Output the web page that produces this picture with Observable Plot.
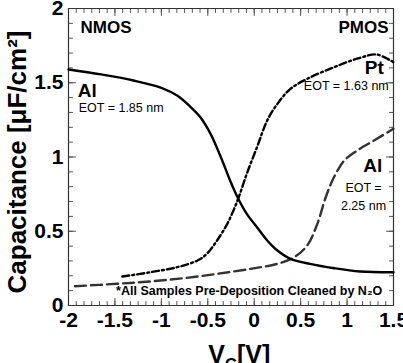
<!DOCTYPE html>
<html><head><meta charset="utf-8">
<script src="https://cdn.jsdelivr.net/npm/d3@7"></script>
<script src="https://cdn.jsdelivr.net/npm/@observablehq/plot@0.6"></script>
<style>body{margin:0;background:#fff}</style>
</head><body><div id="chart"></div>
<script>
// --- data ---
const alNmosV = [-2, -1.65, -1.3, -1.0, -0.83, -0.69, -0.58, -0.47, -0.36, -0.26, -0.18, -0.08, 0.03, 0.14, 0.25, 0.39, 0.6, 0.86, 1.14, 1.5];
const alNmosC = [1.589, 1.556, 1.515, 1.466, 1.414, 1.34, 1.268, 1.156, 1.0, 0.842, 0.729, 0.617, 0.527, 0.438, 0.37, 0.314, 0.28, 0.251, 0.229, 0.224];

const ptV = [-1.42, -1.12, -0.83, -0.61, -0.51, -0.4, -0.29, -0.18, -0.08, 0.03, 0.14, 0.25, 0.39, 0.57, 0.86, 1.14, 1.32, 1.5];
const ptC = [0.195, 0.224, 0.258, 0.303, 0.348, 0.438, 0.55, 0.707, 0.887, 1.066, 1.246, 1.358, 1.459, 1.526, 1.605, 1.668, 1.69, 1.638];

const alPmosV = [-1.93, -1.48, -1.12, -0.76, -0.4, -0.04, 0.25, 0.43, 0.57, 0.68, 0.77, 0.86, 0.97, 1.11, 1.29, 1.5];
const alPmosC = [0.13, 0.146, 0.162, 0.184, 0.213, 0.247, 0.281, 0.325, 0.404, 0.55, 0.729, 0.865, 0.976, 1.044, 1.111, 1.19];

const xDomain = [-2, 1.5];
const yDomain = [0, 2];
const xTicks = [-2, -1.5, -1, -0.5, 0, 0.5, 1, 1.5];
const xTickLabels = ["-2", "-1.5", "-1", "-0.5", "0", "0.5", "1", "1.5"];
const yTicks = [0, 0.5, 1, 1.5, 2];
const yTickLabels = ["0", "0.5", "1", "1.5", "2"];
const xMinor = d3.range(0, 43).map(i => -2 + i / 12);
const yMinor = d3.range(0, 21).map(i => i / 10);

// annotations: [text, x, y]
const leftTitles = [["NMOS", -1.87, 1.832]];
const rightTitles = [["PMOS", 1.446, 1.832]];
const leftMetals = [["Al", -1.9, 1.403]];
const rightMetals = [["Pt", 1.395, 1.556], ["Al", 1.378, 0.898]];
const leftEot = [["EOT = 1.85 nm", -1.89, 1.302]];
const rightEot = [["EOT = 1.63 nm", 1.449, 1.452]];
const midEot = [["EOT =", 1.177, 0.763], ["2.25 nm", 1.177, 0.64]];
const footnotes = [["*All Samples Pre-Deposition Cleaned by N\u2082O", 1.378, 0.072]];

const xLabelMain = "V";
const xLabelSub = "G";
const xLabelUnit = "[V]";
const yLabel = "Capacitance [μF/cm²]";

const tbl = (V, C) => V.map((v, i) => ({v, c: C[i]}));
const alNmos = tbl(alNmosV, alNmosC);
const pt = tbl(ptV, ptC);
const alPmos = tbl(alPmosV, alPmosC);

const W = 403, H = 363, ML = 68, MR = 10, MT = 8, MB = 58;
const FW = W - ML - MR, FH = H - MT - MB;
const font = "'Liberation Sans', Arial, Helvetica, sans-serif";
const tickColor = "#555";

// frame outline from the domain extremes
const [x0, x1] = xDomain, [y0, y1] = yDomain;
const frameCorners = [{v: x0, c: y0}, {v: x1, c: y0}, {v: x1, c: y1}, {v: x0, c: y1}, {v: x0, c: y0}];

// inward tick segments (lengths given in pixels, converted to data units)
const pxX = (x1 - x0) / FW, pxY = (y1 - y0) / FH;
const tickSegs = [];
let k = 0;
const addX = (vals, len) => vals.forEach(v => {
  tickSegs.push({v, c: y0, k}, {v, c: y0 + len * pxY, k}); k++;
  tickSegs.push({v, c: y1, k}, {v, c: y1 - len * pxY, k}); k++;
});
const addY = (vals, len) => vals.forEach(c => {
  tickSegs.push({v: x0, c, k}, {v: x0 + len * pxX, c, k}); k++;
  tickSegs.push({v: x1, c, k}, {v: x1 - len * pxX, c, k}); k++;
});
addX(xMinor, 4); addX(xTicks, 7); addY(yMinor, 4); addY(yTicks, 7);

const ann = (rows, opts) => Plot.text(rows, {x: d => d[1], y: d => d[2], text: d => d[0], lineAnchor: "bottom", fill: "#000", ...opts});
const title = (s, opts) => Plot.text([s], {frameAnchor: "bottom", text: d => d, lineAnchor: "bottom", fontWeight: "bold", fill: "#000", ...opts});

const chart = Plot.plot({
  width: W, height: H,
  marginLeft: ML, marginRight: MR, marginTop: MT, marginBottom: MB,
  style: {fontFamily: font, background: "#fff", color: "#000", overflow: "hidden"},
  x: {domain: xDomain, axis: null},
  y: {domain: yDomain, axis: null},
  marks: [
    // inward ticks on all four sides + frame
    Plot.line(tickSegs, {x: "v", y: "c", z: "k", stroke: tickColor, strokeWidth: 1, clip: false}),
    Plot.line(frameCorners, {x: "v", y: "c", stroke: "#333", strokeWidth: 1.2, clip: false}),
    Plot.frame({stroke: "#333", strokeWidth: 1}),
    // tick labels
    Plot.axisX({anchor: "bottom", ticks: xTicks, tickSize: 0, tickPadding: 7, tickFormat: d => xTickLabels[xTicks.indexOf(d)], label: null, fontSize: 21, fontWeight: "bold", fill: "#000"}),
    Plot.axisY({anchor: "left", ticks: yTicks, tickSize: 0, tickPadding: 5, tickFormat: d => yTickLabels[yTicks.indexOf(d)], label: null, fontSize: 21, fontWeight: "bold", fill: "#000"}),
    // curves
    Plot.line(alPmos, {x: "v", y: "c", stroke: "#333", strokeWidth: 2.4, strokeDasharray: "11,5", curve: "catmull-rom"}),
    Plot.line(pt, {x: "v", y: "c", stroke: "#000", strokeWidth: 2.4, strokeDasharray: "7,3,2,3", curve: "catmull-rom"}),
    Plot.line(alNmos, {x: "v", y: "c", stroke: "#000", strokeWidth: 2.4, curve: "catmull-rom"}),
    // annotations
    ann(leftTitles, {textAnchor: "start", fontSize: 17, fontWeight: "bold"}),
    ann(rightTitles, {textAnchor: "end", fontSize: 17, fontWeight: "bold"}),
    ann(leftMetals, {textAnchor: "start", fontSize: 19, fontWeight: "bold"}),
    ann(rightMetals, {textAnchor: "end", fontSize: 19, fontWeight: "bold"}),
    ann(leftEot, {textAnchor: "start", fontSize: 12.5}),
    ann(rightEot, {textAnchor: "end", fontSize: 12.5}),
    ann(midEot, {textAnchor: "middle", fontSize: 12.5}),
    ann(footnotes, {textAnchor: "end", fontSize: 12.5, fontWeight: "bold"}),
    // axis titles
    title(xLabelMain, {textAnchor: "end", dx: -6, dy: 57, fontSize: 25}),
    title(xLabelSub, {textAnchor: "start", dx: -6, dy: 64, fontSize: 16}),
    title(xLabelUnit, {textAnchor: "start", dx: 6, dy: 57, fontSize: 25}),
    Plot.text([yLabel], {frameAnchor: "left", dx: -51, dy: 5, rotate: -90, text: d => d, textAnchor: "middle", lineAnchor: "middle", fontSize: 26, fontWeight: "bold", fill: "#000"})
  ]
});

document.getElementById("chart").appendChild(chart);
</script>
</body></html>
